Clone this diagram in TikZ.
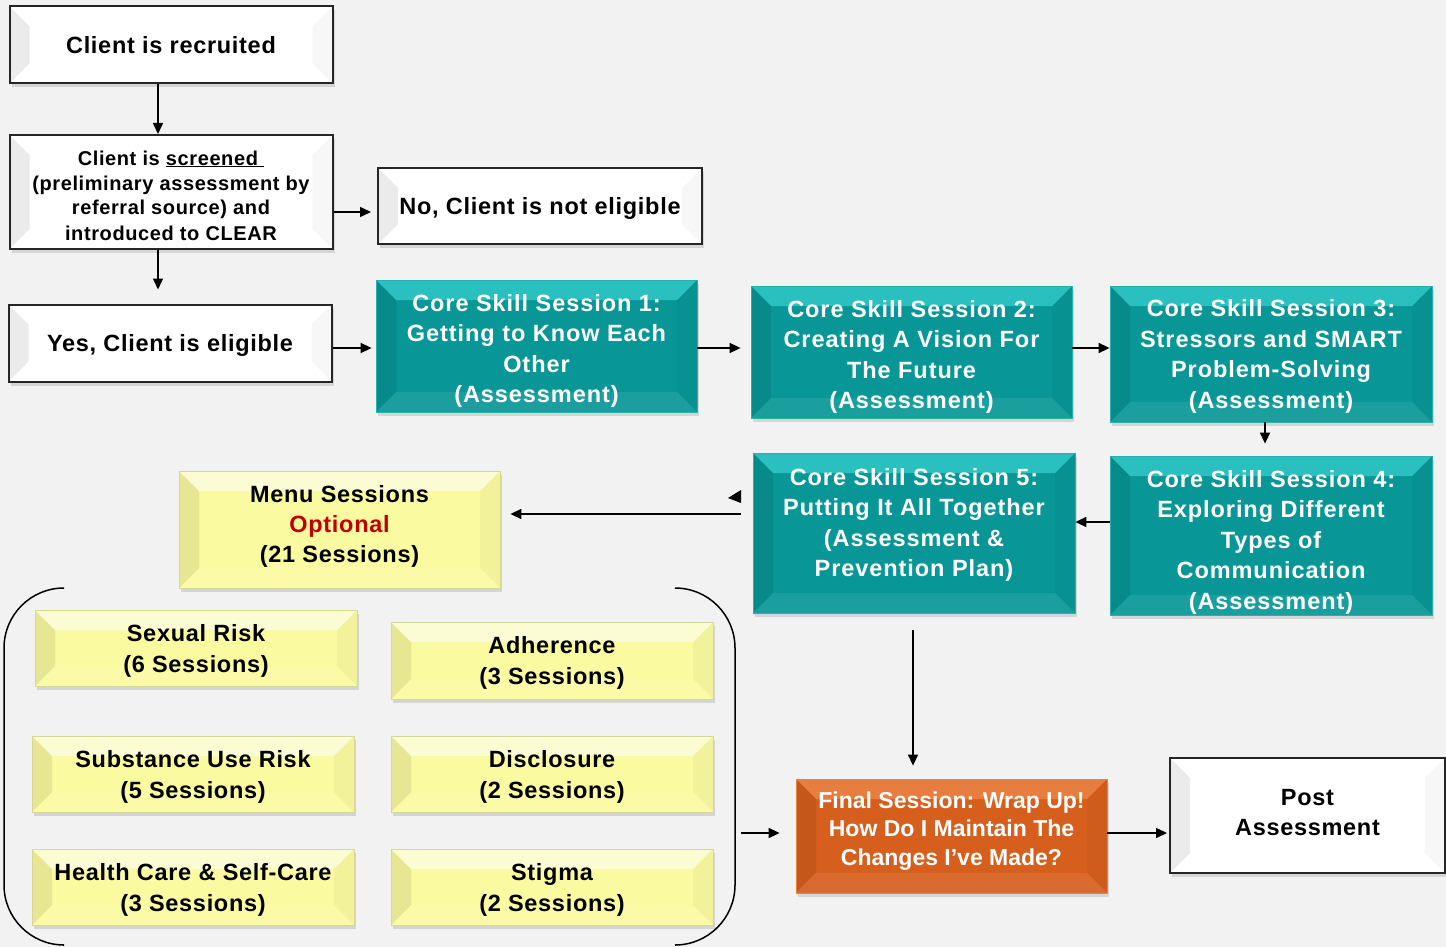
\documentclass[tikz,border=0pt]{standalone}
\usepackage{fontspec}
\setmainfont{Liberation Sans}[LetterSpace=3]
\newfontfamily\corefont{Liberation Sans}[LetterSpace=4]
\newfontfamily\finalfont{Liberation Sans}
\usepackage{tikz}
\usetikzlibrary{positioning,calc,arrows.meta,shadows}
\usepackage{xcolor}
\definecolor{bggray}{RGB}{242,242,242}
\definecolor{coreteal}{RGB}{8,150,150}
\definecolor{coreedge}{RGB}{40,175,175}
\definecolor{coretop}{RGB}{70,228,228}
\definecolor{menuyellow}{RGB}{250,250,160}
\definecolor{menuedge}{RGB}{215,215,150}
\definecolor{finalorange}{RGB}{214,95,30}
\definecolor{finaledge}{RGB}{235,130,60}
\definecolor{finaltop}{RGB}{245,150,90}
\definecolor{optred}{RGB}{192,0,0}
\newcommand{\topstrut}[1]{\rule{0pt}{#1}}

\begin{document}
\begin{tikzpicture}[x=1pt,y=-1pt,
    bevel/.style={path picture={
        \fill[#1,opacity=.55] (path picture bounding box.north west) -- (path picture bounding box.north east)
          -- ([xshift=-20pt,yshift=-20pt]path picture bounding box.north east) -- ([xshift=20pt,yshift=-20pt]path picture bounding box.north west) -- cycle;
        \fill[black,opacity=.08] (path picture bounding box.north west) -- (path picture bounding box.south west)
          -- ([xshift=20pt,yshift=20pt]path picture bounding box.south west) -- ([xshift=20pt,yshift=-20pt]path picture bounding box.north west) -- cycle;
        \fill[white,opacity=.08] (path picture bounding box.south west) -- (path picture bounding box.south east)
          -- ([xshift=-20pt,yshift=20pt]path picture bounding box.south east) -- ([xshift=20pt,yshift=20pt]path picture bounding box.south west) -- cycle;
        \fill[black,opacity=.03] (path picture bounding box.north east) -- (path picture bounding box.south east)
          -- ([xshift=-20pt,yshift=20pt]path picture bounding box.south east) -- ([xshift=-20pt,yshift=-20pt]path picture bounding box.north east) -- cycle;
      }},
    bevel/.default=white,
    basebox/.style={align=center, inner sep=0pt, text depth=0pt,
      drop shadow={shadow xshift=2pt, shadow yshift=-4pt, opacity=.25}},
    plainbox/.style={basebox, bevel, fill=white, draw=black!85, line width=2pt,
      minimum width=323pt, minimum height=77pt, font=\fontsize{23.5}{30}\selectfont\bfseries},
    corebox/.style={basebox, bevel=coretop, fill=coreteal, draw=coreedge, line width=.8pt, text=white,
      minimum width=321pt, minimum height=132pt, font=\corefont\fontsize{23.5}{30.5}\selectfont\bfseries},
    menubox/.style={basebox, bevel, fill=menuyellow, draw=menuedge, line width=.8pt,
      minimum width=322pt, minimum height=76pt, font=\fontsize{23.5}{31}\selectfont\bfseries},
    finalbox/.style={basebox, bevel=finaltop, fill=finalorange, draw=finaledge, line width=.8pt, text=white,
      font=\finalfont\fontsize{23}{28.5}\selectfont\bfseries},
    arr/.style={-{Triangle[length=11pt,width=10pt]}, line width=1.5pt}]

  \fill[bggray] (0,0) rectangle (1446,947);
  \useasboundingbox (0,0) rectangle (1446,947);

  % intake
  \node[plainbox] (recruited) at (171,45) {Client is recruited};
  \node[plainbox, minimum height=114pt, font=\fontsize{20}{25}\selectfont\bfseries] (screened) at (171,192)
    {\topstrut{21pt}Client is \underline{screened\ }\\(preliminary assessment by\\referral source) and\\introduced to CLEAR};
  \node[plainbox, minimum width=324pt, minimum height=76pt] (noteligible) at (540,206) {No, Client is not eligible};
  \node[plainbox] (yes) at (170,343) {Yes, Client is eligible};

  % core skill sessions
  \node[corebox] (cs1) at (536.5,346) {\topstrut{22pt}Core Skill Session 1:\\Getting to Know Each\\Other\\(Assessment)};
  \node[corebox] (cs2) at (911.5,352) {\topstrut{22pt}Core Skill Session 2:\\Creating A Vision For\\The Future\\(Assessment)};
  \node[corebox, minimum width=322pt, minimum height=136pt] (cs3) at (1271,354) {Core Skill Session 3:\\Stressors and SMART\\Problem-Solving\\(Assessment)};
  \node[corebox, minimum width=322pt, minimum height=159pt] (cs4) at (1271,535.5) {\topstrut{25pt}Core Skill Session 4:\\Exploring Different\\Types of\\Communication\\(Assessment)};
  \node[corebox, minimum width=322pt, minimum height=160pt, text depth=21pt] (cs5) at (914,533) {Core Skill Session 5:\\Putting It All Together\\(Assessment \&\\Prevention Plan)};

  % menu sessions
  \node[menubox, minimum width=321pt, minimum height=117pt, text depth=11pt, font=\fontsize{23.5}{30}\selectfont\bfseries] (menu) at (339.5,529.5)
    {Menu Sessions\\\textcolor{optred}{Optional}\\(21 Sessions)};
  \node[menubox] (sexual) at (196,648) {Sexual Risk\\(6 Sessions)};
  \node[menubox, minimum height=77pt] (adherence) at (552,660.5) {Adherence\\(3 Sessions)};
  \node[menubox] (substance) at (193,774) {Substance Use Risk\\(5 Sessions)};
  \node[menubox] (disclosure) at (552,774) {Disclosure\\(2 Sessions)};
  \node[menubox] (health) at (193,887) {Health Care \& Self-Care\\(3 Sessions)};
  \node[menubox] (stigma) at (552,887) {Stigma\\(2 Sessions)};

  \draw[line width=1.5pt, rounded corners=60pt] (63,588) -- (4,588) -- (4,945) -- (63,945);
  \draw[line width=1.5pt, rounded corners=60pt] (676,588) -- (735,588) -- (735,945) -- (676,945);
  \coordinate (menuout) at (741,833);

  % final
  \node[finalbox, minimum width=311pt, minimum height=114pt, text depth=15pt] (final) at (951.5,836)
    {Final Session: Wrap Up!\\How Do I Maintain The\\Changes I’ve Made?};
  \node[plainbox, minimum width=275pt, minimum height=115pt, text depth=6pt] (post) at (1307.5,815.5) {Post\\Assessment};

  % arrows
  \draw[arr] ([xshift=-13pt]recruited.south) -- ([xshift=-13pt]screened.north);
  \draw[arr] (screened.east |- 0,212) -- ([xshift=-6pt]noteligible.west |- 0,212);
  \draw[arr] ([xshift=-13pt]screened.south) -- ([xshift=-12pt,yshift=14pt]yes.north);
  \draw[arr] (yes.east |- 0,348) -- ([xshift=-4pt]cs1.west |- 0,348);
  \draw[arr] (cs1.east |- 0,348) -- ([xshift=-10pt]cs2.west |- 0,348);
  \draw[arr] (cs2.east |- 0,348) -- (cs3.west |- 0,348);
  \draw[arr] ([xshift=-6pt]cs3.south) -- ([xshift=-6pt,yshift=12pt]cs4.north);
  \draw[arr] (cs4.west |- 0,522) -- (cs5.east |- 0,522);
  \draw[arr] ([xshift=-12pt]cs5.west |- 0,514) -- ([xshift=10pt]menu.east |- 0,514);
  \fill (741,490) -- (741,503) -- (728,498) -- cycle;
  \draw[arr] ([xshift=-1pt]cs5.south |- 0,630) -- ([xshift=-1pt,yshift=13pt]final.north -| cs5.south);
  \draw[arr] (menuout) -- ([xshift=-16pt]final.west |- menuout);
  \draw[arr] (final.east |- 0,833) -- ([xshift=-2pt]post.west |- 0,833);
\end{tikzpicture}
\end{document}
